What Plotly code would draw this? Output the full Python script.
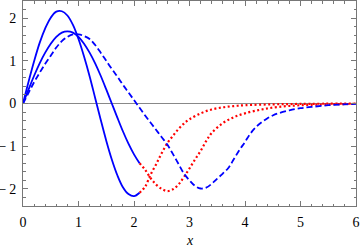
import plotly.graph_objects as go

# Solid curve A (taller oscillation)
xa = [0, 0.1, 0.2, 0.3, 0.4, 0.5, 0.6, 0.7, 0.8, 0.9, 1.0, 1.1, 1.2, 1.3, 1.4, 1.5, 1.6, 1.7, 1.8, 1.9, 2.0, 2.1]
ya = [0, 0.51, 0.99, 1.42, 1.76, 2.01, 2.15, 2.16, 2.06, 1.84, 1.51, 1.10, 0.64, 0.13, -0.38, -0.87, -1.31, -1.68, -1.96, -2.12, -2.17, -2.09]

# Solid curve B
xb = [0, 0.1, 0.2, 0.3, 0.4, 0.5, 0.6, 0.7, 0.8, 0.9, 1.0, 1.1, 1.2, 1.3, 1.4, 1.5, 1.6, 1.7, 1.8, 1.9, 2.0, 2.1]
yb = [0, 0.33, 0.65, 0.94, 1.19, 1.40, 1.56, 1.66, 1.69, 1.66, 1.56, 1.40, 1.19, 0.94, 0.65, 0.33, 0, -0.33, -0.65, -0.94, -1.19, -1.40]

# Dashed curve
xd = [0, 0.1, 0.2, 0.3, 0.4, 0.5, 0.6, 0.7, 0.8, 0.9, 1.0, 1.1, 1.2, 1.3, 1.4, 1.5, 1.6, 1.7, 1.8, 1.9, 2.0,
      2.1, 2.2, 2.3, 2.4, 2.5, 2.6, 2.7, 2.8, 2.9, 3.0, 3.1, 3.2, 3.3, 3.4, 3.5, 3.6, 3.7, 3.8, 3.9, 4.0,
      4.1, 4.2, 4.3, 4.4, 4.5, 4.6, 4.8, 5.0, 5.2, 5.5, 5.8, 6.0]
yd = [0, 0.25, 0.5, 0.72, 0.93, 1.12, 1.31, 1.46, 1.56, 1.62, 1.62, 1.58, 1.51, 1.37, 1.19, 1.0, 0.81, 0.63, 0.44, 0.26, 0.08,
      -0.10, -0.28, -0.45, -0.62, -0.79, -0.96, -1.18, -1.41, -1.64, -1.80, -1.93, -1.99, -1.97, -1.88, -1.76, -1.64, -1.51, -1.30, -1.09, -0.90,
      -0.70, -0.55, -0.44, -0.35, -0.28, -0.23, -0.16, -0.11, -0.08, -0.04, -0.02, -0.01]

# Red dotted continuation of A
xra = [2.1, 2.2, 2.3, 2.4, 2.5, 2.6, 2.7, 2.8, 2.9, 3.0, 3.2, 3.4, 3.6, 3.8, 4.0, 4.5, 5.0, 6.0]
yra = [-2.09, -1.95, -1.66, -1.42, -1.16, -0.93, -0.76, -0.60, -0.47, -0.37, -0.23, -0.14, -0.09, -0.06, -0.04, -0.02, -0.01, 0.0]

# Red dotted continuation of B
xrb = [2.1, 2.2, 2.3, 2.4, 2.5, 2.6, 2.7, 2.8, 2.9, 3.0, 3.1, 3.2, 3.3, 3.4, 3.6, 3.8, 4.0, 4.3, 4.6, 5.0, 5.5, 6.0]
yrb = [-1.40, -1.55, -1.75, -1.90, -2.00, -2.05, -2.01, -1.90, -1.72, -1.52, -1.31, -1.11, -0.88, -0.69, -0.46, -0.32, -0.23, -0.14, -0.08, -0.04, -0.02, -0.01]

xticks = [0, 1, 2, 3, 4, 5, 6]
yticks = [-2, -1, 0, 1, 2]
yticktext = ["\u2212\u20092", "\u2212\u20091", "0", "1", "2"]
xtitle = "x"

BLUE = "#0000FF"
RED = "#FF0000"

fig = go.Figure()
fig.add_trace(go.Scatter(x=xra, y=yra, mode="lines", line=dict(color=RED, width=2.2, dash="2px,2.5px", shape="spline")))
fig.add_trace(go.Scatter(x=xrb, y=yrb, mode="lines", line=dict(color=RED, width=2.2, dash="2px,2.5px", shape="spline")))
fig.add_trace(go.Scatter(x=xd, y=yd, mode="lines", line=dict(color=BLUE, width=1.8, dash="6px,3px", shape="spline")))
fig.add_trace(go.Scatter(x=xb, y=yb, mode="lines", line=dict(color=BLUE, width=1.8, shape="spline")))
fig.add_trace(go.Scatter(x=xa, y=ya, mode="lines", line=dict(color=BLUE, width=1.8, shape="spline")))

font = dict(family="Liberation Serif", size=14, color="black")

fig.update_layout(
    width=360, height=250,
    margin=dict(l=23, r=4, t=1, b=44),
    paper_bgcolor="white", plot_bgcolor="white",
    showlegend=False,
    font=font,
)
fig.update_xaxes(
    range=[0, 6], tickvals=xticks, ticktext=[str(v) for v in xticks],
    ticks="inside", ticklen=5, tickcolor="#777", tickwidth=1,
    minor=dict(dtick=0.2, ticks="inside", ticklen=2.5, tickcolor="#777", tickwidth=1, showgrid=False),
    showline=True, linecolor="#777", linewidth=1, mirror="allticks",
    showgrid=False, zeroline=False, automargin=False,
    tickfont=font, ticklabelstandoff=3, ticklabeloverflow="allow",
)
fig.update_yaxes(
    range=[-2.4, 2.4], tickvals=yticks, ticktext=yticktext,
    ticks="inside", ticklen=5, tickcolor="#777", tickwidth=1,
    minor=dict(dtick=0.2, ticks="inside", ticklen=2.5, tickcolor="#777", tickwidth=1, showgrid=False),
    showline=True, linecolor="#777", linewidth=1, mirror="allticks",
    showgrid=False, zeroline=True, zerolinecolor="#888", zerolinewidth=1.2,
    automargin=False, tickfont=font, ticklabelstandoff=3, ticklabeloverflow="allow",
)
fig.add_annotation(
    x=3, y=-0.17, xref="x", yref="paper", text="<i>" + xtitle + "</i>",
    showarrow=False, yanchor="middle", font=font,
)

fig.write_html(
    "out.html",
    config={"displayModeBar": False},
    post_script="document.body.style.margin='0';document.body.style.padding='0';document.documentElement.style.overflow='hidden';",
)
